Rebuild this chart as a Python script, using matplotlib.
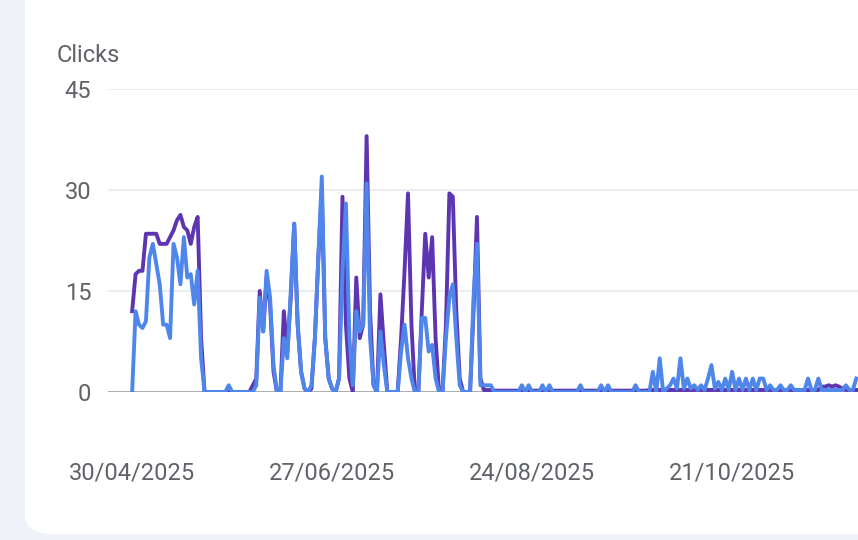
import datetime as dt
import matplotlib.pyplot as plt
from matplotlib.patches import FancyBboxPatch

plt.rcParams['font.family'] = ['Roboto', 'DejaVu Sans']

start = dt.date(2025, 4, 30)

# daily clicks, two series (purple = current, blue = comparison)
purple = [
    12, 17.5, 18, 18, 23.5, 23.5, 23.5, 23.5, 22, 22,
    22, 23, 24, 25.5, 26.3, 24.5, 24, 22, 24.5, 26,
    8, 0, 0, 0, 0, 0, 0, 0, 0, 0,
    0, 0, 0, 0, 0, 1, 2, 15, 9, 17,
    13, 3, 0, 0, 12, 6, 14, 25, 10, 3,
    0.5, 0, 0.5, 8, 20, 30, 8, 2, 0.5, 0,
    2, 29, 10, 2, 0, 17, 8, 10, 38, 12,
    1, 0, 14.5, 7, 0, 0, 0, 0, 8, 18,
    29.5, 10, 0, 0, 12, 23.5, 17, 23, 8, 0,
    0, 10, 29.5, 29, 12, 2, 0, 0, 0, 12,
    26, 2, 0.3, 0.3, 0.3, 0.2, 0.2, 0.2, 0.2, 0.2,
    0.2, 0.2, 0.2, 0.2, 0.2, 0.2, 0.2, 0.2, 0.2, 0.2,
    0.2, 0.2, 0.2, 0.2, 0.2, 0.2, 0.2, 0.2, 0.2, 0.2,
    0.2, 0.2, 0.2, 0.2, 0.2, 0.2, 0.2, 0.2, 0.2, 0.2,
    0.2, 0.2, 0.2, 0.2, 0.2, 0.2, 0.2, 0.2, 0.2, 0.2,
    0.3, 0.3, 0.3, 0.3, 0.3, 0.3, 0.3, 0.3, 0.3, 0.3,
    0.3, 0.3, 0.3, 0.3, 0.3, 0.3, 0.3, 0.3, 0.3, 0.3,
    0.3, 0.3, 0.3, 0.3, 0.3, 0.3, 0.3, 0.3, 0.3, 0.3,
    0.3, 0.3, 0.3, 0.3, 0.3, 0.3, 0.3, 0.3, 0.3, 0.3,
    0.3, 0.3, 0.3, 0.3, 0.3, 0.3, 0.3, 0.3, 0.3, 0.3,
    0.8, 0.8, 1, 0.8, 1, 0.8, 0.5, 0.3, 0.3, 0.3,
    0.3,
]
blue = [
    0, 12, 10, 9.5, 10.5, 20, 22, 19, 16, 10,
    10, 8, 22, 20, 16, 23, 17, 17.5, 13, 18,
    5, 0, 0, 0, 0, 0, 0, 0, 1, 0,
    0, 0, 0, 0, 0, 0, 1, 14, 9, 18,
    14, 4, 0, 0, 8, 5, 15, 25, 10, 3,
    0.5, 0, 1, 8, 20, 32, 8, 2, 0.5, 0,
    2, 18, 28, 8, 1, 12, 9, 10, 31, 8,
    1, 0, 9, 4, 0, 0, 0, 0, 6, 10,
    5, 2, 0, 0, 11, 11, 6, 7, 2, 0,
    0, 8, 14, 16, 8, 1, 0, 0, 0, 14,
    22, 1, 1, 1, 1, 0, 0, 0, 0, 0,
    0, 0, 0, 1, 0, 1, 0, 0, 0, 1,
    0, 1, 0, 0, 0, 0, 0, 0, 0, 0,
    1, 0, 0, 0, 0, 0, 1, 0, 1, 0,
    0, 0, 0, 0, 0, 0, 1, 0, 0, 0,
    0, 3, 0, 5, 0, 0.5, 1, 2, 0.5, 5,
    0.5, 2, 0.5, 1, 0.3, 1, 0.3, 2, 4, 0.5,
    1.5, 0.3, 2, 0.3, 3, 0.3, 2, 0.3, 2, 0.3,
    2, 0.3, 2, 2, 0.3, 1, 0.3, 0.3, 1, 0.3,
    0.3, 1, 0.3, 0.3, 0.3, 0.3, 2, 0.3, 0.3, 2,
    0.3, 0.3, 0.3, 0.3, 0.3, 0.3, 0.3, 1, 0.3, 0.3,
    2,
]
tick_days = [0, 58, 116, 174]
y_ticks = [0, 15, 30, 45]

days = list(range(len(purple)))
tick_labels = [(start + dt.timedelta(days=d)).strftime("%d/%m/%Y") for d in tick_days]

W, H = 858, 540
fig = plt.figure(figsize=(W / 100, H / 100), dpi=100)
fig.patch.set_facecolor("#eff3f9")
card = FancyBboxPatch((25 / W, 6 / H), 1.2, 1.2, boxstyle="round,pad=0,rounding_size=0.035",
                      transform=fig.transFigure, facecolor="white", edgecolor="none", zorder=-5)
fig.patches.append(card)

ax = fig.add_axes([108 / W, 1 - 392 / H, 750 / W, (392 - 89) / H])
ax.set_facecolor("none")
ax.plot(days, purple, color="#5e35b1", lw=2.8, solid_joinstyle="round", zorder=3)
ax.plot(days, blue, color="#4f86ec", lw=2.8, solid_joinstyle="round", zorder=4)
ax.set_xlim(-7, 210.5)
ax.set_ylim(0, 45)
for s in ax.spines.values():
    s.set_visible(False)
ax.axhline(0, color="#9e9e9e", lw=1.2, zorder=2)
for yv in y_ticks[1:]:
    ax.axhline(yv, color="#e8eaed", lw=1.2, zorder=1)
ax.set_yticks(y_ticks)
ax.set_xticks(tick_days)
ax.set_xticklabels(tick_labels)
ax.tick_params(length=0, labelsize=17, labelcolor="#5f6368")
ax.tick_params(axis="y", pad=12)
ax.tick_params(axis="x", pad=50)
fig.text(57 / W, 1 - 55 / H, "Clicks", fontsize=17, color="#5f6368", va="center")
fig.savefig("out.png", dpi=100, facecolor=fig.get_facecolor())
